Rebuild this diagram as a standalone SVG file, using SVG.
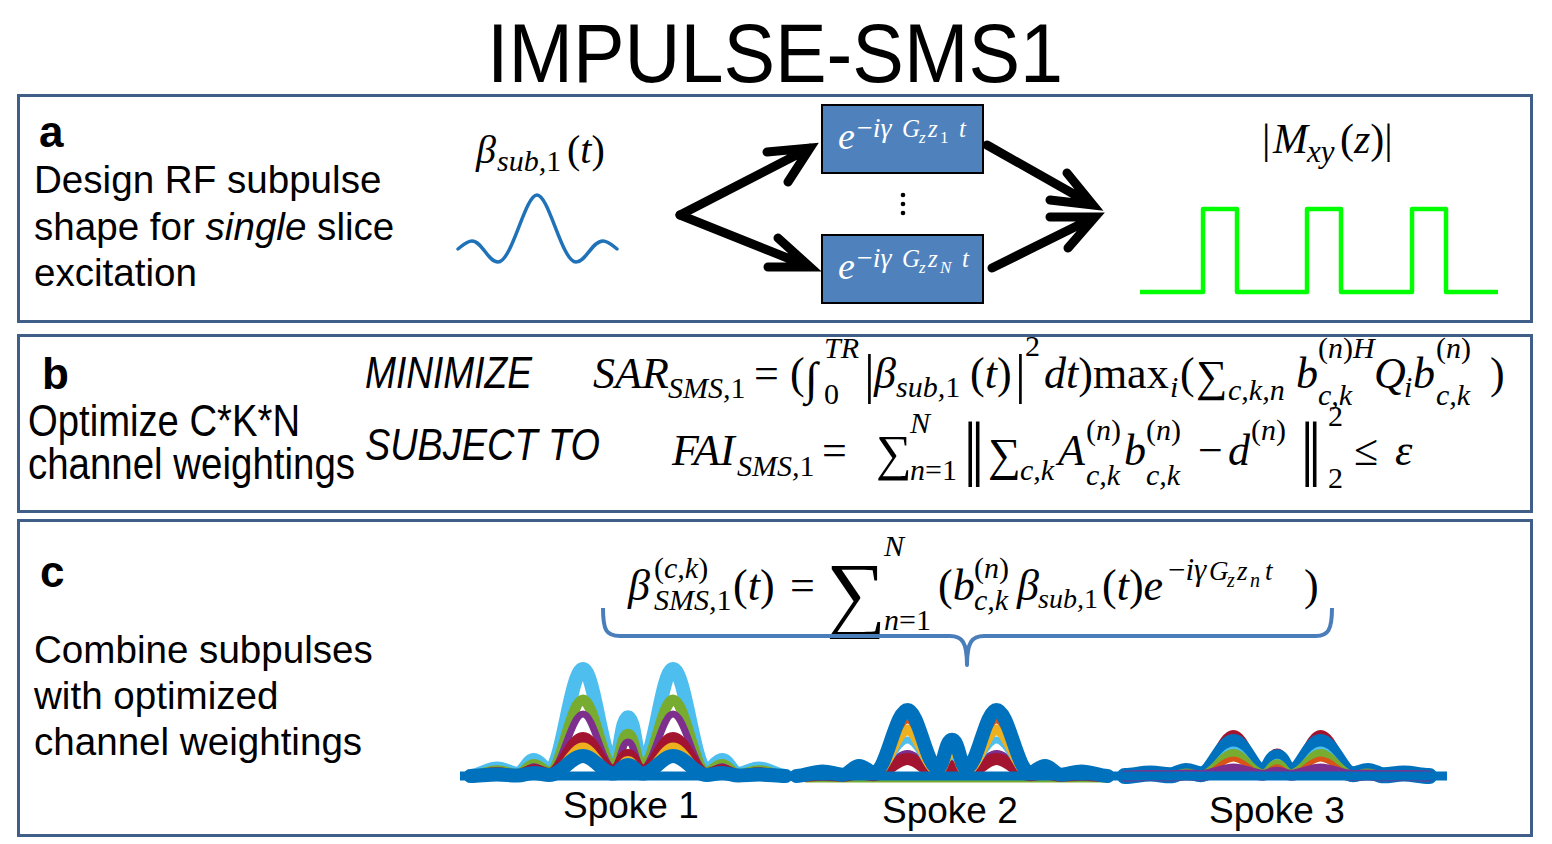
<svg xmlns="http://www.w3.org/2000/svg" xmlns:xlink="http://www.w3.org/1999/xlink" width="1552" height="844" viewBox="0 0 1552 844">
<style>
.sans{font-family:"Liberation Sans",Arial,sans-serif;fill:#000}
.txt{font-size:38.6px}
.hd{font-size:44px;font-weight:bold}
.cond{font-size:44px}
.m{font-family:"Liberation Serif","Times New Roman",serif;font-style:italic;fill:#000}
.u{font-style:normal}
.panel{fill:none;stroke:#3F5E88;stroke-width:3}
.box{fill:#4F81BD;stroke:#000;stroke-width:2}
.arr{fill:none;stroke:#000;stroke-width:9;stroke-linecap:round;stroke-linejoin:miter}
.brace{fill:none;stroke:#4A7EBB;stroke-width:4;stroke-linejoin:round}
.sp{fill:none;stroke-linejoin:round;stroke-linecap:round}
</style>
<defs>
<path id="lobe" vector-effect="non-scaling-stroke" d="M-154 0 C-145 0 -138 -7 -128 -7 C-120 -7 -115 -2 -108 -2 C-102 -2 -98 -15 -92 -15 C-86 -15 -82 -5 -77 -5 C-65 -5 -56 -100 -44 -100 C-33 -100 -25 -12 -14 -12 C-8 -12 -7 -55 0 -55 C7 -55 8 -12 14 -12 C25 -12 33 -100 44 -100 C56 -100 65 -5 77 -5 C82 -5 86 -15 92 -15 C98 -15 102 -2 108 -2 C115 -2 120 -7 128 -7 C138 -7 145 0 154 0"/>
</defs>
<rect width="1552" height="844" fill="#fff"/>

<g id="title">
<text class="sans" x="775" y="82" text-anchor="middle" font-size="84" textLength="576" lengthAdjust="spacingAndGlyphs">IMPULSE-SMS1</text>
</g>

<g id="panel-a">
<rect class="panel" x="18.5" y="95.5" width="1513" height="226"/>
<text class="sans hd" x="39" y="147">a</text>
<text class="sans txt" x="34" y="193">Design RF subpulse</text>
<text class="sans txt" x="34" y="240">shape for <tspan font-style="italic">single</tspan> slice</text>
<text class="sans txt" x="34" y="286">excitation</text>
</g>

<g id="node-subpulse">
<text class="m" font-size="40"><tspan x="476" y="163">β</tspan><tspan x="497" y="171" font-size="30">sub,</tspan><tspan class="u" font-size="30">1</tspan><tspan x="567" y="163" class="u">(</tspan><tspan>t</tspan><tspan class="u">)</tspan></text>
<path d="M458 249 C463 245 467 241 472 241 C482 241 488 262 498 262 C512 262 525 195 537 195 C549 195 562 262 576 262 C586 262 592 241 603 241 C608 241 612 245 617 249" fill="none" stroke="#1F72B8" stroke-width="3.5" stroke-linecap="round"/>
</g>

<g id="box-z1">
<rect class="box" x="822" y="105" width="161" height="68"/>
<text class="m" style="fill:#fff"><tspan x="838" y="149" font-size="38">e</tspan><tspan x="857" y="137" font-size="28" class="u">−</tspan><tspan font-size="28">iγ</tspan><tspan x="902" y="137" font-size="25">G</tspan><tspan x="919" y="143" font-size="17">z</tspan><tspan x="928" y="137" font-size="25">z</tspan><tspan x="940" y="143" font-size="17" class="u">1</tspan><tspan x="959" y="137" font-size="25">t</tspan></text>
</g>

<g id="ellipsis">
<circle cx="903" cy="195" r="2.3" fill="#000"/>
<circle cx="903" cy="204" r="2.3" fill="#000"/>
<circle cx="903" cy="213" r="2.3" fill="#000"/>
</g>

<g id="box-zN">
<rect class="box" x="822" y="235" width="161" height="68"/>
<text class="m" style="fill:#fff"><tspan x="838" y="279" font-size="38">e</tspan><tspan x="857" y="267" font-size="28" class="u">−</tspan><tspan font-size="28">iγ</tspan><tspan x="902" y="267" font-size="25">G</tspan><tspan x="919" y="273" font-size="17">z</tspan><tspan x="928" y="267" font-size="25">z</tspan><tspan x="940" y="273" font-size="17">N</tspan><tspan x="962" y="267" font-size="25">t</tspan></text>
</g>

<g id="node-mxy">
<text class="m" font-size="42"><tspan x="1262" y="153" class="u">|</tspan><tspan x="1273" y="153">M</tspan><tspan x="1307" y="162" font-size="31">xy</tspan><tspan x="1340" y="153" class="u">(</tspan><tspan>z</tspan><tspan class="u">)|</tspan></text>
<path d="M1140 292 H1203 V209 H1237 V292 H1307 V209 H1341 V292 H1412 V209 H1446 V292 H1498" fill="none" stroke="#00FF00" stroke-width="4.5" stroke-linejoin="round"/>
</g>

<g id="connectors">
<path class="arr" d="M680 215 L810 148 M767 152 L810 148 L788 182"/>
<path class="arr" d="M680 215 L810 267 M778 238 L810 267 L768 267"/>
<path class="arr" d="M987 145 L1093 205 M1067 173 L1093 205 L1050 200"/>
<path class="arr" d="M992 268 L1095 217 M1050 217 L1095 217 L1068 248"/>
</g>

<g id="panel-b">
<rect class="panel" x="18.5" y="335.5" width="1513" height="176"/>
<text class="sans hd" x="42" y="389">b</text>
<text class="sans cond" x="28" y="436" textLength="272" lengthAdjust="spacingAndGlyphs">Optimize C*K*N</text>
<text class="sans cond" x="28" y="479" textLength="327" lengthAdjust="spacingAndGlyphs">channel weightings</text>
<text class="sans cond" x="365" y="388" font-style="italic" textLength="167" lengthAdjust="spacingAndGlyphs">MINIMIZE</text>
<text class="sans cond" x="365" y="460" font-style="italic" textLength="235" lengthAdjust="spacingAndGlyphs">SUBJECT TO</text>
</g>

<g id="eq-sar">
<text class="m" font-size="44"><tspan x="593" y="388">SAR</tspan><tspan x="668" y="398" font-size="30">SMS,</tspan><tspan font-size="30" class="u">1</tspan><tspan x="754" y="388" class="u">=</tspan><tspan x="790" y="388" class="u">(</tspan><tspan x="805" y="394" class="u" font-size="46">∫</tspan><tspan x="824" y="358" font-size="30">TR</tspan><tspan x="824" y="404" font-size="30" class="u">0</tspan><tspan x="864" y="392" class="u" font-size="54">|</tspan><tspan x="874" y="388">β</tspan><tspan x="896" y="397" font-size="30">sub,</tspan><tspan font-size="30" class="u">1</tspan><tspan x="970" y="388" class="u">(</tspan><tspan>t</tspan><tspan class="u">)</tspan><tspan x="1015" y="392" class="u" font-size="54">|</tspan><tspan x="1025" y="356" font-size="30" class="u">2</tspan><tspan x="1044" y="388">dt</tspan><tspan class="u">)max</tspan><tspan x="1170" y="397" font-size="30">i</tspan><tspan x="1180" y="388" class="u">(</tspan><tspan x="1196" y="391" class="u" font-size="44">∑</tspan><tspan x="1228" y="400" font-size="30">c,k,n</tspan><tspan x="1296" y="388">b</tspan><tspan x="1318" y="358" font-size="30" class="u">(</tspan><tspan font-size="30">n</tspan><tspan font-size="30" class="u">)</tspan><tspan font-size="30">H</tspan><tspan x="1318" y="405" font-size="30">c,k</tspan><tspan x="1374" y="388">Q</tspan><tspan x="1404" y="397" font-size="30">i</tspan><tspan x="1413" y="388">b</tspan><tspan x="1436" y="358" font-size="30" class="u">(</tspan><tspan font-size="30">n</tspan><tspan font-size="30" class="u">)</tspan><tspan x="1436" y="405" font-size="30">c,k</tspan><tspan x="1490" y="388" class="u">)</tspan></text>
</g>

<g id="eq-fai">
<text class="m" font-size="44"><tspan x="672" y="465">FAI</tspan><tspan x="737" y="476" font-size="30">SMS,</tspan><tspan font-size="30" class="u">1</tspan><tspan x="822" y="465" class="u">=</tspan><tspan x="876" y="470" class="u" font-size="50">∑</tspan><tspan x="910" y="433" font-size="30">N</tspan><tspan x="910" y="480" font-size="30">n</tspan><tspan font-size="30" class="u">=1</tspan><tspan x="963" y="472" class="u" font-size="72" letter-spacing="-7">||</tspan><tspan x="988" y="470" class="u" font-size="46">∑</tspan><tspan x="1020" y="480" font-size="30">c,k</tspan><tspan x="1058" y="465">A</tspan><tspan x="1086" y="440" font-size="30" class="u">(</tspan><tspan font-size="30">n</tspan><tspan font-size="30" class="u">)</tspan><tspan x="1086" y="485" font-size="30">c,k</tspan><tspan x="1124" y="465">b</tspan><tspan x="1146" y="440" font-size="30" class="u">(</tspan><tspan font-size="30">n</tspan><tspan font-size="30" class="u">)</tspan><tspan x="1146" y="485" font-size="30">c,k</tspan><tspan x="1198" y="465" class="u">−</tspan><tspan x="1228" y="465">d</tspan><tspan x="1251" y="440" font-size="30" class="u">(</tspan><tspan font-size="30">n</tspan><tspan font-size="30" class="u">)</tspan><tspan x="1300" y="472" class="u" font-size="72" letter-spacing="-7">||</tspan><tspan x="1328" y="426" font-size="30" class="u">2</tspan><tspan x="1328" y="488" font-size="30" class="u">2</tspan><tspan x="1354" y="465" class="u">≤</tspan><tspan x="1395" y="465">ε</tspan></text>
</g>

<g id="panel-c">
<rect class="panel" x="18.5" y="520.5" width="1513" height="315"/>
<text class="sans hd" x="40" y="587">c</text>
<text class="sans txt" x="34" y="663">Combine subpulses</text>
<text class="sans txt" x="34" y="709">with optimized</text>
<text class="sans txt" x="34" y="755">channel weightings</text>
</g>

<g id="eq-combine">
<text class="m" font-size="44"><tspan x="628" y="600">β</tspan><tspan x="654" y="578" font-size="30" class="u">(</tspan><tspan font-size="30">c,k</tspan><tspan font-size="30" class="u">)</tspan><tspan x="654" y="610" font-size="30">SMS,</tspan><tspan font-size="30" class="u">1</tspan><tspan x="733" y="600" class="u">(</tspan><tspan>t</tspan><tspan class="u">)</tspan><tspan x="790" y="600" class="u">=</tspan><tspan x="826" y="621" class="u" font-size="84">∑</tspan><tspan x="884" y="556" font-size="30">N</tspan><tspan x="884" y="630" font-size="30">n</tspan><tspan font-size="30" class="u">=1</tspan><tspan x="938" y="600" class="u">(</tspan><tspan>b</tspan><tspan x="974" y="578" font-size="30" class="u">(</tspan><tspan font-size="30">n</tspan><tspan font-size="30" class="u">)</tspan><tspan x="974" y="610" font-size="30">c,k</tspan><tspan x="1017" y="600">β</tspan><tspan x="1038" y="608" font-size="28">sub,</tspan><tspan font-size="28" class="u">1</tspan><tspan x="1102" y="600" class="u">(</tspan><tspan>t</tspan><tspan class="u">)</tspan><tspan>e</tspan><tspan x="1168" y="580" font-size="31" class="u">−</tspan><tspan font-size="31">iγ</tspan><tspan x="1209" y="580" font-size="27">G</tspan><tspan x="1227" y="587" font-size="20">z</tspan><tspan x="1237" y="580" font-size="27">z</tspan><tspan x="1250" y="587" font-size="20">n</tspan><tspan x="1265" y="580" font-size="27">t</tspan><tspan x="1304" y="600" class="u">)</tspan></text>
<path class="brace" d="M603 608 C603 630 606 636 620 636 L950 636 C962 636 967 642 967 665 C967 642 972 636 984 636 L1316 636 C1328 636 1332 630 1332 608"/>
</g>

<g id="spoke-1">
<use xlink:href="#lobe" class="sp" transform="translate(628,776) scale(1.023,1.07)" stroke="#4DBEEE" stroke-width="14"/>
<use xlink:href="#lobe" class="sp" transform="translate(628,776) scale(1.023,0.76)" stroke="#77AC30" stroke-width="11"/>
<use xlink:href="#lobe" class="sp" transform="translate(628,776) scale(1.023,0.62)" stroke="#7E2F8E" stroke-width="7"/>
<use xlink:href="#lobe" class="sp" transform="translate(628,776) scale(1.023,0.38)" stroke="#A2142F" stroke-width="12"/>
<use xlink:href="#lobe" class="sp" transform="translate(628,776) scale(1.023,0.30)" stroke="#EDB120" stroke-width="7"/>
<use xlink:href="#lobe" class="sp" transform="translate(628,776) scale(1.023,0.20)" stroke="#0072BD" stroke-width="14"/>
<text class="sans" x="563" y="818" font-size="37">Spoke 1</text>
</g>

<g id="spoke-2">
<line x1="805" y1="780" x2="1110" y2="780" stroke="#77AC30" stroke-width="5"/>
<use xlink:href="#lobe" class="sp" transform="translate(952,776) scale(1.011,0.22)" stroke="#7E2F8E" stroke-width="8"/>
<use xlink:href="#lobe" class="sp" transform="translate(952,776) scale(1.011,0.17)" stroke="#A2142F" stroke-width="12"/>
<use xlink:href="#lobe" class="sp" transform="translate(952,776) scale(1.011,0.36)" stroke="#4DBEEE" stroke-width="7"/>
<use xlink:href="#lobe" class="sp" transform="translate(952,776) scale(1.011,0.46)" stroke="#EDB120" stroke-width="11"/>
<use xlink:href="#lobe" class="sp" transform="translate(952,776) scale(1.011,0.56)" stroke="#D95319" stroke-width="7"/>
<use xlink:href="#lobe" class="sp" transform="translate(952,776) scale(1.011,0.66)" stroke="#0072BD" stroke-width="14"/>
<text class="sans" x="882" y="823" font-size="37">Spoke 2</text>
</g>

<g id="spoke-3">
<use xlink:href="#lobe" class="sp" transform="translate(1277,776) scale(0.989,0.41)" stroke="#A2142F" stroke-width="10"/>
<use xlink:href="#lobe" class="sp" transform="translate(1277,776) scale(0.989,0.34)" stroke="#0072BD" stroke-width="16"/>
<use xlink:href="#lobe" class="sp" transform="translate(1277,776) scale(0.989,0.27)" stroke="#4DBEEE" stroke-width="5"/>
<use xlink:href="#lobe" class="sp" transform="translate(1277,776) scale(0.989,0.23)" stroke="#77AC30" stroke-width="8"/>
<use xlink:href="#lobe" class="sp" transform="translate(1277,776) scale(0.989,0.17)" stroke="#D95319" stroke-width="5"/>
<use xlink:href="#lobe" class="sp" transform="translate(1277,776) scale(0.989,0.07)" stroke="#7E2F8E" stroke-width="11"/>
<text class="sans" x="1209" y="823" font-size="37">Spoke 3</text>
</g>

<g id="baseline">
<line x1="460" y1="776" x2="1447" y2="776" stroke="#0072BD" stroke-width="9"/>
</g>
</svg>
